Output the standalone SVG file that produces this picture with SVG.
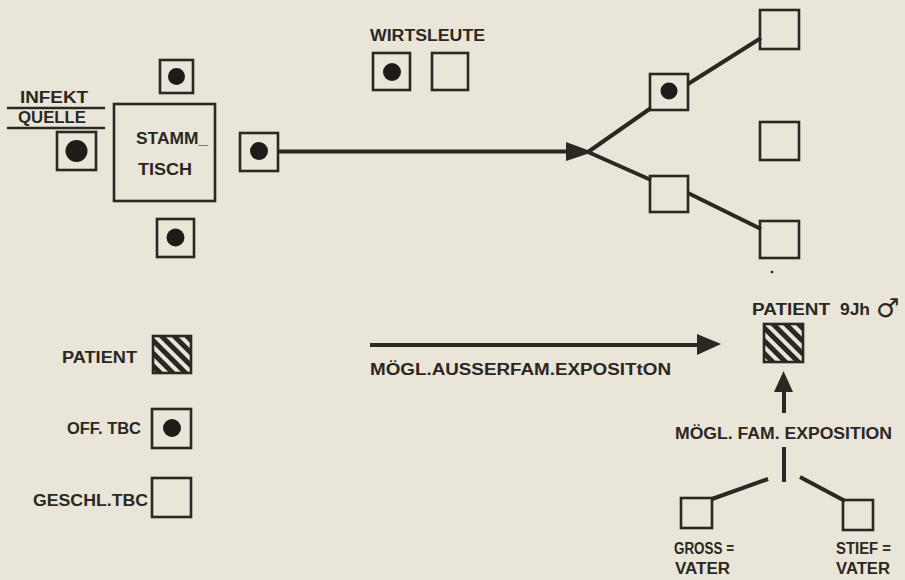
<svg xmlns="http://www.w3.org/2000/svg" width="905" height="580" viewBox="0 0 905 580">
<defs>
<style>
.bg{fill:#e9e5d8}
.box{fill:none;stroke:#2b2723;stroke-width:2.6}
.dot{fill:#1f1b18}
.ln{stroke:#2b2723;stroke-width:4;stroke-linecap:butt;fill:none}
.ul{stroke:#2b2723;stroke-width:2.5}
.hd{fill:#2b2723}
.t{font-family:"Liberation Sans","DejaVu Sans",sans-serif;font-weight:bold;fill:#2b2723;font-size:16px}
</style>
<pattern id="hatch" patternUnits="userSpaceOnUse" width="9" height="9" patternTransform="rotate(-45)">
<rect width="9" height="9" fill="#e9e5d8"/>
<rect width="5" height="9" fill="#2b2723"/>
</pattern>
</defs>
<rect class="bg" width="905" height="580"/>

<g id="infekt-label">
<text class="t" x="20" y="103" textLength="68" lengthAdjust="spacingAndGlyphs">INFEKT</text>
<line class="ul" x1="7" y1="108" x2="105" y2="108"/>
<text class="t" x="18" y="123" textLength="68" lengthAdjust="spacingAndGlyphs">QUELLE</text>
<line class="ul" x1="7" y1="128" x2="105" y2="128"/>
</g>
<g id="n-top"><rect class="box" x="160" y="60" width="33" height="33"/><circle class="dot" cx="176.5" cy="76.5" r="8.5"/></g>
<g id="n-source"><rect class="box" x="57" y="132" width="39" height="38"/><circle class="dot" cx="76.5" cy="151" r="11"/></g>
<g id="stammtisch"><rect class="box" x="114" y="104" width="101" height="97"/>
<text class="t" x="136" y="144" textLength="72" lengthAdjust="spacingAndGlyphs">STAMM_</text>
<text class="t" x="138" y="175" textLength="54" lengthAdjust="spacingAndGlyphs">TISCH</text></g>
<g id="n-right"><rect class="box" x="240" y="133" width="38" height="38"/><circle class="dot" cx="259" cy="151" r="9"/></g>
<g id="n-bottom"><rect class="box" x="157" y="219" width="37" height="38"/><circle class="dot" cx="175.5" cy="237.5" r="9"/></g>

<g id="wirtsleute">
<text class="t" x="370" y="41" textLength="115" lengthAdjust="spacingAndGlyphs">WIRTSLEUTE</text>
<rect class="box" x="373" y="53" width="37" height="37"/><circle class="dot" cx="392" cy="72" r="9"/>
<rect class="box" x="432" y="53" width="36" height="37"/>
</g>

<g id="n-b1"><rect class="box" x="650" y="74" width="38" height="36"/><circle class="dot" cx="669" cy="91" r="8.5"/></g>
<g id="n-b2"><rect class="box" x="650" y="176" width="38" height="36"/></g>
<g id="n-r1"><rect class="box" x="760" y="10" width="39" height="39"/></g>
<g id="n-r2"><rect class="box" x="760" y="122" width="39" height="38"/></g>
<g id="n-r3"><rect class="box" x="760" y="221" width="39" height="37"/></g>

<g id="patient">
<text class="t" x="752" y="315" textLength="78" lengthAdjust="spacingAndGlyphs">PATIENT</text>
<text class="t" x="840" y="315" textLength="30" lengthAdjust="spacingAndGlyphs">9Jh</text>
<text x="876" y="317" style="font-family:'DejaVu Sans',sans-serif;font-size:26px;fill:#2b2723">♂</text>
<rect x="764" y="324" width="39" height="38" fill="url(#hatch)" stroke="#2b2723" stroke-width="2.6"/>
</g>

<g id="grossvater">
<rect class="box" x="681" y="498" width="31" height="30"/>
<text class="t" x="674" y="554" textLength="60" lengthAdjust="spacingAndGlyphs">GROSS =</text>
<text class="t" x="675" y="574" textLength="55" lengthAdjust="spacingAndGlyphs">VATER</text>
</g>
<g id="stiefvater">
<rect class="box" x="843" y="500" width="30" height="30"/>
<text class="t" x="836" y="554" textLength="55" lengthAdjust="spacingAndGlyphs">STIEF =</text>
<text class="t" x="836" y="574" textLength="54" lengthAdjust="spacingAndGlyphs">VATER</text>
</g>

<g id="legend">
<text class="t" x="62" y="363" textLength="75" lengthAdjust="spacingAndGlyphs">PATIENT</text>
<rect x="153" y="336" width="38" height="37" fill="url(#hatch)" stroke="#2b2723" stroke-width="2.6"/>
<text class="t" x="67" y="434" textLength="74" lengthAdjust="spacingAndGlyphs">OFF. TBC</text>
<rect class="box" x="152" y="409" width="39" height="39"/><circle class="dot" cx="172" cy="428" r="9"/>
<text class="t" x="33" y="506" textLength="115" lengthAdjust="spacingAndGlyphs">GESCHL.TBC</text>
<rect class="box" x="152" y="478" width="39" height="39"/>
</g>

<g id="connectors">
<line class="ln" x1="278" y1="151.5" x2="572" y2="151.5"/>
<polygon class="hd" points="566,142 593,152 566,161"/>
<line class="ln" x1="588" y1="152" x2="651" y2="108"/>
<line class="ln" x1="588" y1="152" x2="651" y2="180"/>
<line class="ln" x1="688" y1="84" x2="761" y2="38"/>
<line class="ln" x1="688" y1="193" x2="761" y2="229"/>
<circle class="dot" cx="772" cy="272" r="1.3"/>
<line class="ln" x1="370" y1="345" x2="700" y2="345"/>
<polygon class="hd" points="697,334 721,344 697,355"/>
<line class="ln" x1="784" y1="390" x2="784" y2="413"/>
<polygon class="hd" points="774,392 783.5,371 793,392"/>
<line class="ln" x1="784" y1="447" x2="784" y2="482"/>
<line class="ln" x1="768" y1="479" x2="712" y2="499"/>
<line class="ln" x1="800" y1="477" x2="845" y2="501"/>
</g>
<text class="t" x="370" y="375" textLength="301" lengthAdjust="spacingAndGlyphs">MÖGL.AUSSERFAM.EXPOSITtON</text>
<text class="t" x="675" y="439" textLength="217" lengthAdjust="spacingAndGlyphs">MÖGL. FAM. EXPOSITION</text>
</svg>
